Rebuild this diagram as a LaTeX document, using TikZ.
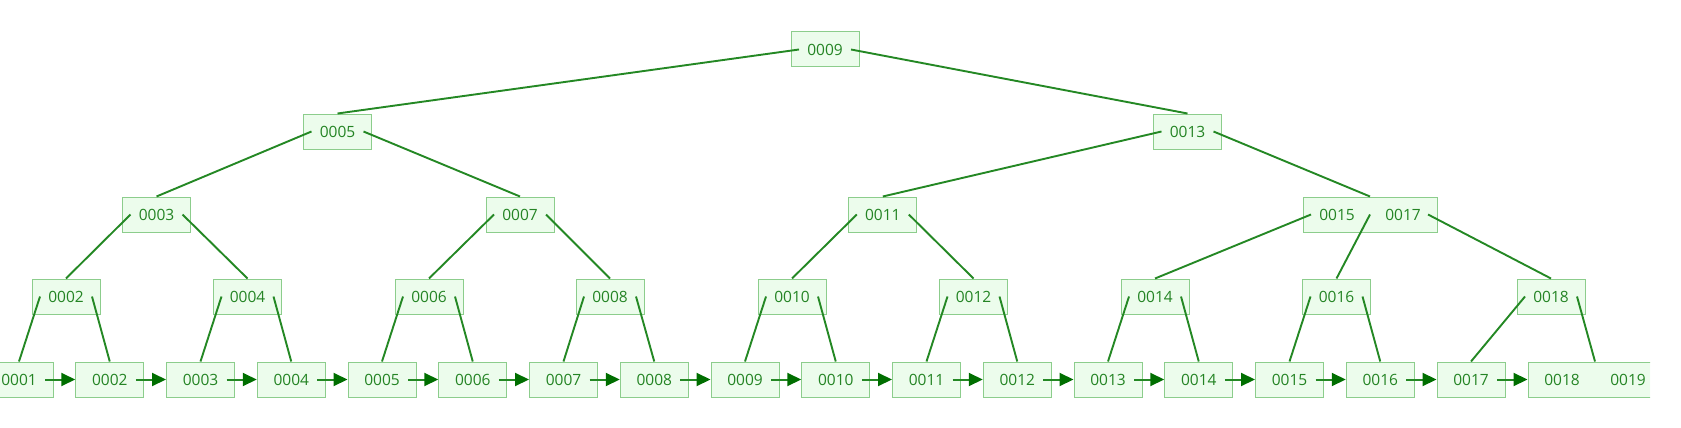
\documentclass[tikz,border=0pt]{standalone}
\usepackage{fontspec}
\setmainfont{Open Sans}
\usetikzlibrary{arrows.meta}
\definecolor{edgecol}{RGB}{36,136,36}
\definecolor{arrcol}{RGB}{0,110,0}
\definecolor{boxcol}{RGB}{140,205,140}
\definecolor{fillcol}{RGB}{236,252,236}
\definecolor{txtcol}{RGB}{36,132,36}
\tikzset{
  bnode/.style={draw=boxcol, line width=1pt, fill=fillcol, minimum width=68pt, minimum height=35pt,
    inner sep=0pt, text=txtcol, font=\fontsize{15.5}{16}\selectfont},
  wnode/.style={bnode, minimum width=134pt},
  tedge/.style={draw=edgecol, line width=1.9pt},
  larr/.style={draw=edgecol, line width=2pt, -{Triangle[length=14pt,width=13pt,fill=arrcol,color=arrcol]}}
}
\newcommand{\twokeys}[2]{\makebox[66pt]{#1}\makebox[66pt]{#2}}
\begin{document}
\begin{tikzpicture}[x=1pt,y=-1pt]
\useasboundingbox (0,0) rectangle (1681,428);
\clip (0,0) rectangle (1650,428);
% root
\node[bnode] (r9) at (825,49.5) {0009};
% level 1
\node[bnode] (n5) at (337.5,131.5) {0005};
\node[bnode] (n13) at (1187.5,131.5) {0013};
% level 2
\node[bnode] (n3) at (156.5,214.5) {0003};
\node[bnode] (n7) at (520,214.5) {0007};
\node[bnode] (n11) at (882.8,214.5) {0011};
\node[wnode] (n1517) at (1370,214.5) {\twokeys{0015}{0017}};
% level 3
\node[bnode] (n2) at (66,296.5) {0002};
\node[bnode] (n4) at (247.5,296.5) {0004};
\node[bnode] (n6) at (429,296.5) {0006};
\node[bnode] (n8) at (610,296.5) {0008};
\node[bnode] (n10) at (792,296.5) {0010};
\node[bnode] (n12) at (973.5,296.5) {0012};
\node[bnode] (n14) at (1155,296.5) {0014};
\node[bnode] (n16) at (1336.5,296.5) {0016};
\node[bnode] (n18) at (1551,296.5) {0018};
% leaves
\foreach \i/\t in {1/0001,2/0002,3/0003,4/0004,5/0005,6/0006,7/0007,8/0008,9/0009,10/0010,11/0011,12/0012,13/0013,14/0014,15/0015,16/0016,17/0017}{
  \node[bnode] (l\i) at ({19+(\i-1)*90.75},379.5) {\t};
}
\node[wnode] (l18) at (1595,379.5) {\twokeys{0018}{0019}};
% tree edges
\draw[tedge] ([xshift=-26pt]r9.center) -- (n5.north);
\draw[tedge] ([xshift=26pt]r9.center) -- (n13.north);
\draw[tedge] ([xshift=-26pt]n5.center) -- (n3.north);
\draw[tedge] ([xshift=26pt]n5.center) -- (n7.north);
\draw[tedge] ([xshift=-26pt]n13.center) -- (n11.north);
\draw[tedge] ([xshift=26pt]n13.center) -- (n1517.north);
\draw[tedge] ([xshift=-26pt]n3.center) -- (n2.north);
\draw[tedge] ([xshift=26pt]n3.center) -- (n4.north);
\draw[tedge] ([xshift=-26pt]n7.center) -- (n6.north);
\draw[tedge] ([xshift=26pt]n7.center) -- (n8.north);
\draw[tedge] ([xshift=-26pt]n11.center) -- (n10.north);
\draw[tedge] ([xshift=26pt]n11.center) -- (n12.north);
\draw[tedge] ([xshift=-59pt]n1517.center) -- (n14.north);
\draw[tedge] (n1517.center) -- (n16.north);
\draw[tedge] ([xshift=58pt]n1517.center) -- (n18.north);
\draw[tedge] ([xshift=-26pt]n2.center) -- (l1.north);
\draw[tedge] ([xshift=26pt]n2.center) -- (l2.north);
\draw[tedge] ([xshift=-26pt]n4.center) -- (l3.north);
\draw[tedge] ([xshift=26pt]n4.center) -- (l4.north);
\draw[tedge] ([xshift=-26pt]n6.center) -- (l5.north);
\draw[tedge] ([xshift=26pt]n6.center) -- (l6.north);
\draw[tedge] ([xshift=-26pt]n8.center) -- (l7.north);
\draw[tedge] ([xshift=26pt]n8.center) -- (l8.north);
\draw[tedge] ([xshift=-26pt]n10.center) -- (l9.north);
\draw[tedge] ([xshift=26pt]n10.center) -- (l10.north);
\draw[tedge] ([xshift=-26pt]n12.center) -- (l11.north);
\draw[tedge] ([xshift=26pt]n12.center) -- (l12.north);
\draw[tedge] ([xshift=-26pt]n14.center) -- (l13.north);
\draw[tedge] ([xshift=26pt]n14.center) -- (l14.north);
\draw[tedge] ([xshift=-26pt]n16.center) -- (l15.north);
\draw[tedge] ([xshift=26pt]n16.center) -- (l16.north);
\draw[tedge] ([xshift=-26pt]n18.center) -- (l17.north);
\draw[tedge] ([xshift=26pt]n18.center) -- (l18.north);
% leaf links
\foreach \i [evaluate=\i as \j using int(\i+1)] in {1,...,17}{
  \draw[larr] ([xshift=26pt]l\i.center) -- (l\j.west);
}
\end{tikzpicture}
\end{document}
